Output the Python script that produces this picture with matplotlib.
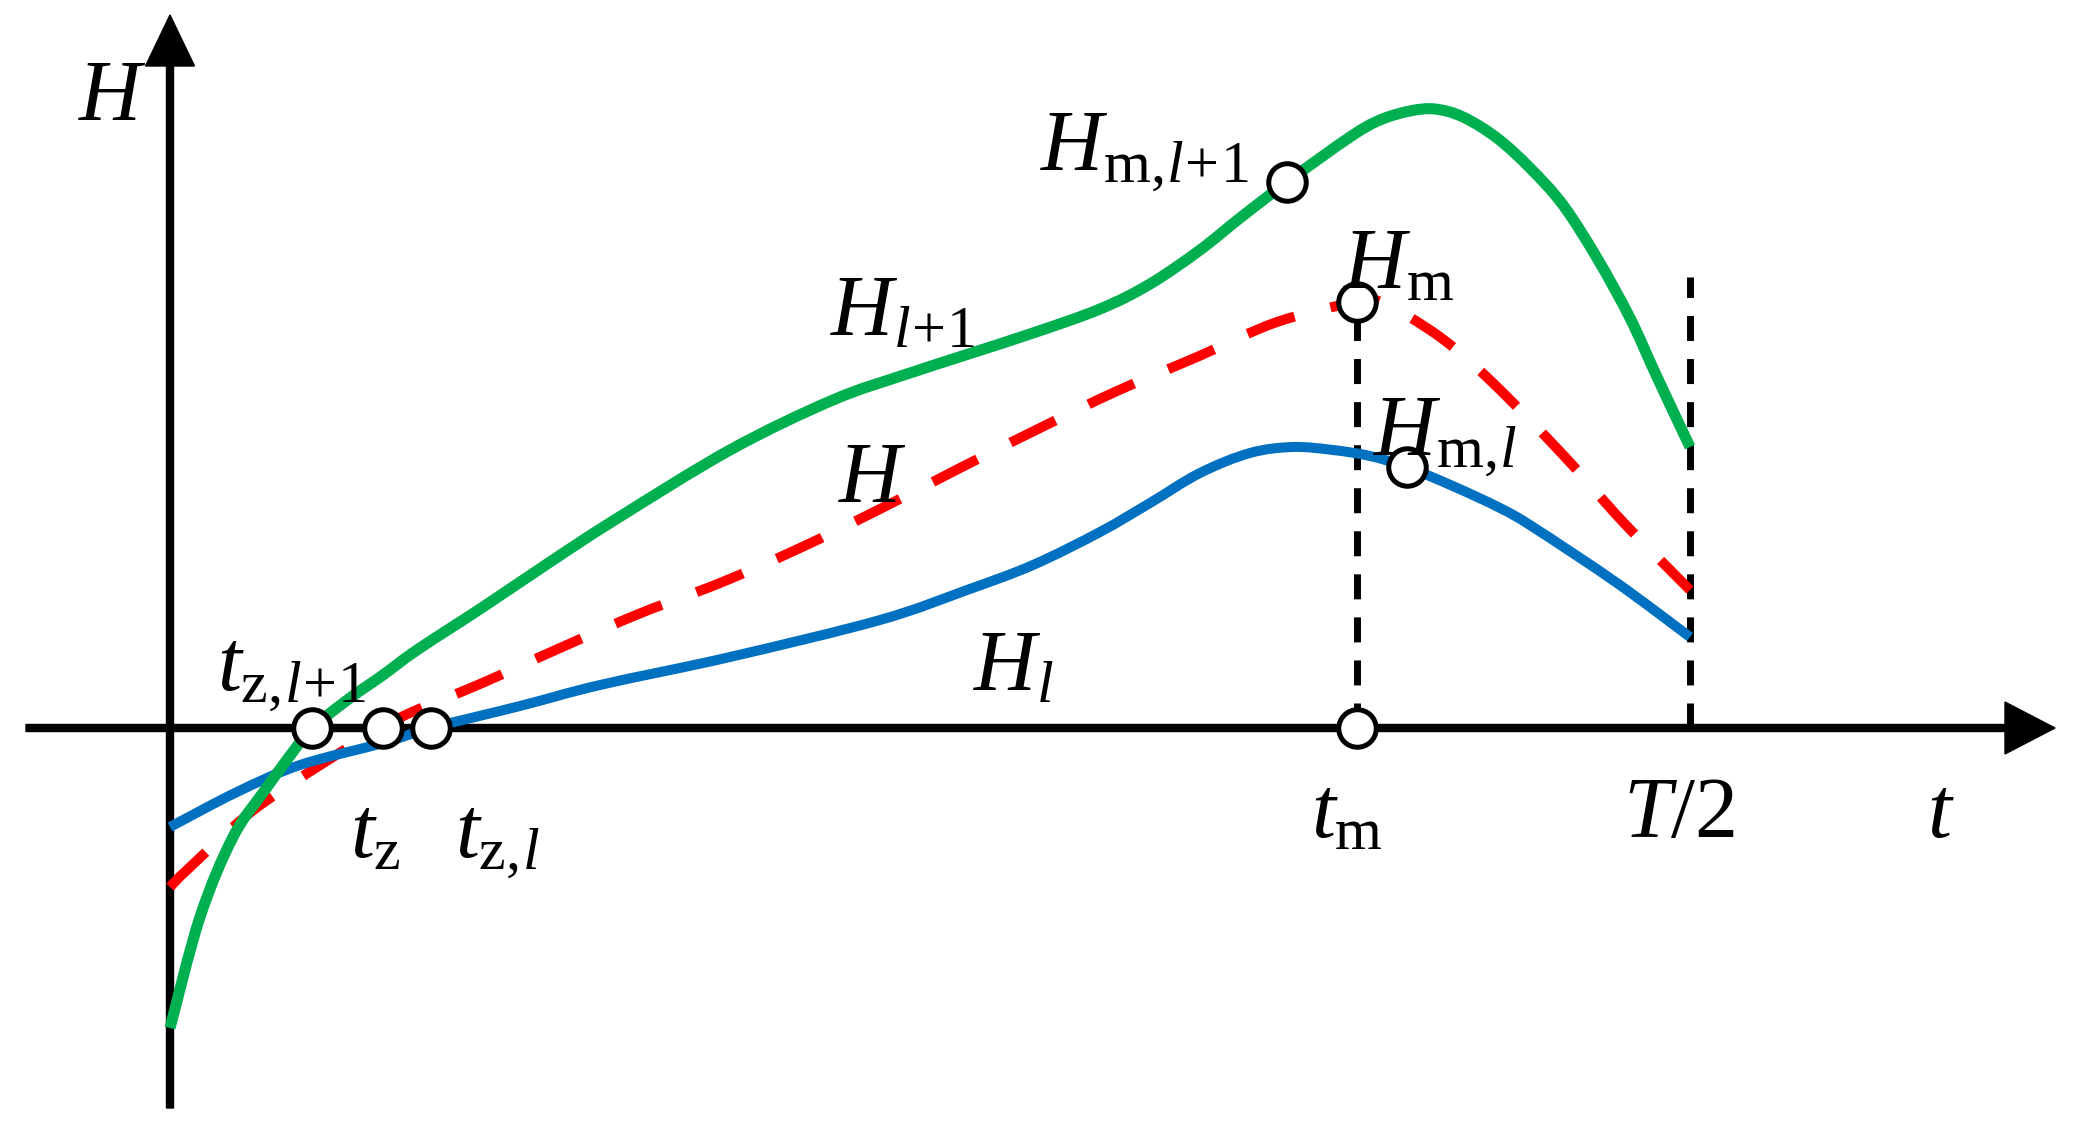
import numpy as np
import matplotlib
matplotlib.use('Agg')
import matplotlib.pyplot as plt
from matplotlib.path import Path
from matplotlib.patches import PathPatch

# fonts: serif italic letters like the sketch
plt.rcParams['font.family'] = 'serif'
plt.rcParams['font.serif'] = ['Liberation Serif'] + plt.rcParams['font.serif']
plt.rcParams['mathtext.fontset'] = 'custom'
plt.rcParams['mathtext.rm'] = 'Liberation Serif'
plt.rcParams['mathtext.it'] = 'Liberation Serif:italic'

# curves, t along the axis, H upwards
t_l1 = [0.00, 0.30, 0.63, 0.95, 1.25, 1.42, 1.80, 2.13, 2.47, 3.13, 3.80, 4.43,
        5.60, 6.63, 7.40, 8.57, 9.30, 9.80, 10.30, 10.70, 11.17, 11.80, 12.10,
        12.40, 12.65, 12.93, 13.27, 13.60, 13.93, 14.27, 14.60, 14.87, 15.20]
H_l1 = [-3.00, -1.89, -1.09, -0.62, -0.21, 0.00, 0.30, 0.53, 0.78, 1.21, 1.66, 2.07,
        2.78, 3.28, 3.55, 3.93, 4.19, 4.44, 4.78, 5.10, 5.46, 5.91, 6.08,
        6.17, 6.19, 6.11, 5.90, 5.60, 5.23, 4.70, 4.10, 3.51, 2.81]

t_mid = [0.00, 0.18, 0.81, 1.55, 2.12, 2.42, 3.10, 3.90, 4.71, 5.50, 6.30, 7.12,
         7.90, 8.68, 9.47, 10.27, 11.07, 11.87, 12.13, 12.70, 13.23, 13.95, 14.53, 15.20]
H_mid = [-1.59, -1.41, -0.84, -0.34, 0.00, 0.16, 0.44, 0.80, 1.15, 1.45, 1.80, 2.20,
         2.60, 2.99, 3.37, 3.71, 4.06, 4.26, 4.25, 3.91, 3.45, 2.71, 2.06, 1.38]

t_l = [0.00, 0.67, 1.30, 2.13, 2.61, 3.50, 4.30, 5.60, 7.10, 7.97, 8.63, 9.30,
       9.80, 10.30, 10.80, 11.23, 11.63, 12.00, 12.37, 12.85, 13.30, 13.63, 14.47, 15.20]
H_l = [-0.99, -0.64, -0.37, -0.15, 0.00, 0.22, 0.43, 0.71, 1.08, 1.38, 1.63, 1.96,
       2.25, 2.55, 2.75, 2.81, 2.78, 2.72, 2.61, 2.41, 2.20, 2.01, 1.45, 0.91]

# marked points
t_zero = [1.42, 2.13, 2.61, 11.87]
t_peak = [11.17, 11.87, 12.37]
H_peak = [5.46, 4.26, 2.61]
t_half = 15.20
H_half_top = 4.51

labels = [r'$H$', r'$H_{\mathrm{m},\!l\!+\!1}$', r'$H_{\mathrm{m}}$', r'$H_{\mathrm{m},\!l}$',
          r'$H_{l\!+\!1}$', r'$H$', r'$H_{l}$', r'$t_{\mathrm{z},\!l\!+\!1}$', r'$t_{\mathrm{z}}$',
          r'$t_{\mathrm{z},\!l}$', r'$t_{\mathrm{m}}$', r'$T/2$', r'$t$']
label_t = [-0.92, 8.70, 11.73, 12.03, 6.60, 6.68, 8.03, 0.47, 1.80, 2.85, 11.41, 14.53, 17.57]
label_H = [6.08, 5.58, 4.40, 2.73, 3.93, 2.26, 0.38, 0.38, -1.29, -1.29, -1.09, -1.09, -1.09]

green = '#00B050'
blue = '#0070C0'
red = '#FF0000'


def smooth_path(t, h):
    # cubic bezier through the read points (catmull-rom tangents)
    p = np.column_stack([t, h])
    ext = np.vstack([p[0], p, p[-1]])
    verts = [p[0]]
    codes = [Path.MOVETO]
    for i in range(len(p) - 1):
        p0, p1, p2, p3 = ext[i], ext[i + 1], ext[i + 2], ext[i + 3]
        verts += [p1 + (p2 - p0) / 6, p2 - (p3 - p1) / 6, p2]
        codes += [Path.CURVE4] * 3
    return Path(verts, codes)


fig = plt.figure(figsize=(20.77, 11.31), dpi=100)
ax = fig.add_axes([0, 0, 1, 1])
ax.set_xlim(-1.70, 19.07)
ax.set_ylim(-4.03, 7.28)
ax.axis('off')

# coordinate axes with arrow heads
ax.arrow(-1.44, 0, 20.29, 0, width=0.07, head_width=0.52, head_length=0.50,
         length_includes_head=True, fc='k', ec='k', zorder=1)
ax.arrow(0, -3.80, 0, 10.93, width=0.07, head_width=0.49, head_length=0.51,
         length_includes_head=True, fc='k', ec='k', zorder=1)

# vertical guides at t_m and T/2
ax.plot([t_zero[3], t_zero[3]], [0, H_peak[1]], color='k', lw=5,
        dashes=(3.6, 2.6), zorder=2)
ax.plot([t_half, t_half], [0, H_half_top], color='k', lw=5,
        dashes=(3.6, 2.6), zorder=2)

# the three curves
ax.add_patch(PathPatch(smooth_path(t_mid, H_mid), fill=False, ec=red, lw=7.2,
                       ls=(0, (5.0, 3.7)), capstyle='butt', zorder=3))
ax.add_patch(PathPatch(smooth_path(t_l, H_l), fill=False, ec=blue, lw=7.2,
                       capstyle='butt', zorder=4))
ax.add_patch(PathPatch(smooth_path(t_l1, H_l1), fill=False, ec=green, lw=8,
                       capstyle='butt', zorder=5))

# open circles
ax.plot(t_zero, [0] * len(t_zero), 'o', ms=27, mfc='white', mec='k', mew=3.6, zorder=6)
ax.plot(t_peak, H_peak, 'o', ms=27, mfc='white', mec='k', mew=3.6, zorder=6)

for s, x, y in zip(labels, label_t, label_H):
    ax.text(x, y, s, fontsize=62, ha='left', va='baseline', zorder=7)

fig.savefig('out.png', dpi=100, facecolor='white')
